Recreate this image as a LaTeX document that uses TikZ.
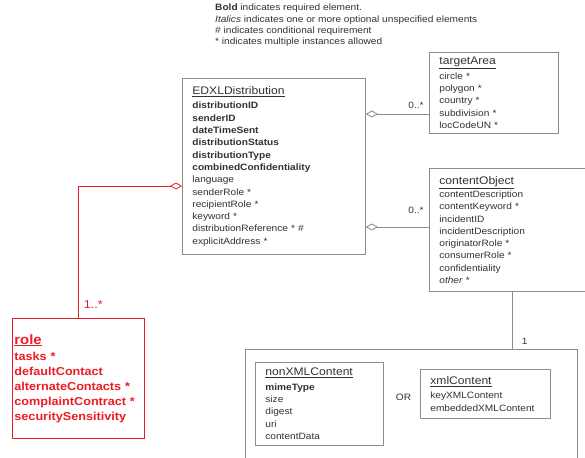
\documentclass[tikz,border=0pt]{standalone}
\usepackage{fontspec}
\usetikzlibrary{arrows.meta,positioning}
\newfontfamily\umlfont{Liberation Sans}[FakeStretch=1.1]
\definecolor{linegray}{RGB}{140,140,140}
\definecolor{textgray}{RGB}{50,50,50}
\definecolor{rolered}{RGB}{236,28,36}
\newcommand{\clsname}[1]{{\fontsize{11}{12}\selectfont\underline{#1}}}
\newcommand{\umlbody}{\umlfont\fontsize{9.2}{12.3}\selectfont}
\newcommand{\rolebody}{\umlfont\bfseries\fontsize{11.5}{15}\selectfont}
\tikzset{
  classbox/.style={draw=linegray, fill=white, line width=0.8pt, anchor=north west,
    inner xsep=10pt, inner ysep=0pt, align=left, font=\umlbody, text=textgray},
  aggr/.style={draw=linegray, line width=0.8pt, {Diamond[open,length=12pt,width=7pt]}-},
  mult/.style={font=\umlbody, text=textgray, inner sep=0pt},
}
\begin{document}
\begin{tikzpicture}[x=1pt,y=-1pt]
  \useasboundingbox (0,0) rectangle (585,457);
  \clip (0,0) rectangle (585,457);
  % legend
  \node[mult, anchor=north west, align=left, font=\umlfont\fontsize{9.2}{11.2}\selectfont] (legend) at (215,4)
    {\textbf{Bold} indicates required element.\\
     \textit{Italics} indicates one or more optional unspecified elements\\
     \# indicates conditional requirement\\
     * indicates multiple instances allowed};
  % classes
  \node[classbox, text width=163pt, minimum height=176pt] (edxl) at (182,78)
    {\clsname{EDXLDistribution}\\[2pt]
     \textbf{distributionID}\\ \textbf{senderID}\\ \textbf{dateTimeSent}\\
     \textbf{distributionStatus}\\ \textbf{distributionType}\\
     \textbf{combinedConfidentiality}\\ language\\ senderRole *\\
     recipientRole *\\ keyword *\\ distributionReference * \#\\ explicitAddress *};
  \node[classbox, text width=109pt, minimum height=81pt] (target) at (429,52)
    {\clsname{targetArea}\\[2pt]
     circle *\\ polygon *\\ country *\\ subdivision *\\ locCodeUN *};
  \node[classbox, text width=146pt, minimum height=123pt] (content) at (429,168)
    {\clsname{contentObject}\\[1pt]
     contentDescription\\ contentKeyword *\\ incidentID\\ incidentDescription\\
     originatorRole *\\ consumerRole *\\ confidentiality\\ \textit{other} *};
  \node[classbox, minimum width=332pt, minimum height=130pt, inner sep=0pt] (payload) at (245,349) {};
  \node[classbox, text width=108pt, minimum height=83pt] (nonxml) at (255,362)
    {\clsname{nonXMLContent}\\[2pt]
     \textbf{mimeType}\\ size\\ digest\\ uri\\ contentData};
  \node[mult] (or) at (403.5,397) {OR};
  \node[classbox, text width=110pt, minimum height=49pt] (xml) at (420,369)
    {\clsname{xmlContent}\\[2pt]
     keyXMLContent\\ embeddedXMLContent};
  \node[classbox, draw=rolered, text=rolered, inner xsep=2pt, text width=128pt,
        minimum height=120pt, font=\rolebody] (role) at (12,318)
    {{\fontsize{13.5}{15}\selectfont\underline{role}}\\[1pt]
     tasks *\\ defaultContact\\ alternateContacts *\\ complaintContract *\\ securitySensitivity};
  % connectors
  \draw[aggr] (edxl.east |- 0,114) -- (target.west |- 0,114)
    node[mult, pos=1, anchor=south east, inner sep=5pt] {0..*};
  \draw[aggr] (edxl.east |- 0,227) -- (content.west |- 0,227)
    node[mult, pos=1, anchor=south east, inner sep=5pt, yshift=8pt] {0..*};
  \draw[line width=0.8pt, draw=linegray] (content.south) -- (content.south |- payload.north)
    node[mult, anchor=south west, xshift=9pt, yshift=4pt] {1};
  \draw[aggr, draw=rolered] (edxl.west |- 0,186) -| (role.north)
    node[mult, text=rolered, font=\umlfont\fontsize{11.5}{13}\selectfont, pos=0.98, anchor=south west, xshift=5pt, yshift=4pt] {1..*};
\end{tikzpicture}
\end{document}
